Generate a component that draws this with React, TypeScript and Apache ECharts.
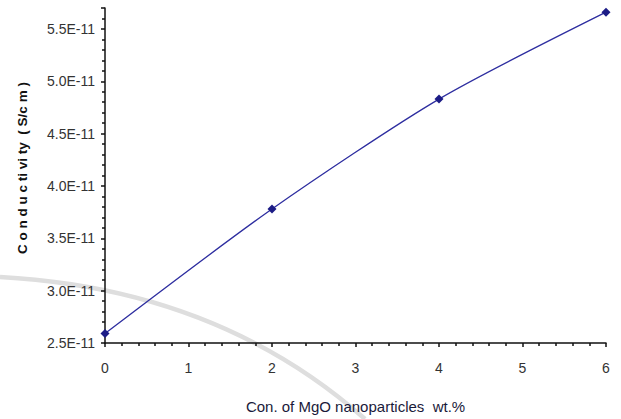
import React, { useEffect, useRef } from "react";
import * as echarts from "echarts";

// Data (conductivity in units of 1E-11 S/cm)
const mgoWt: number[] = [0, 2, 4, 6];
const conductivityE11: number[] = [2.59, 3.78, 4.83, 5.66];

const xTitle = "Con. of MgO nanoparticles  wt.%";
const yTitle = "C o n d u c ti vi ty  ( S/c m )";

const FONT = "'Liberation Sans', Arial, sans-serif";

export default function App() {
  const ref = useRef<HTMLDivElement>(null);

  useEffect(() => {
    document.body.style.margin = "0";
    if (!ref.current) return;
    const chart = echarts.init(ref.current, null, { renderer: "svg" });
    const seriesData = mgoWt.map((x, i) => [x, conductivityE11[i]]);
    chart.setOption({
      animation: false,
      backgroundColor: "#ffffff",
      grid: { left: 105, right: 15, top: 8, bottom: 76, containLabel: false },
      graphic: [
        {
          type: "bezierCurve",
          z: -10,
          shape: { x1: 0, y1: 277, cpx1: 150, cpy1: 285, cpx2: 270, cpy2: 335, x2: 365, y2: 419 },
          style: { stroke: "#dedede", lineWidth: 4.5, fill: "none" },
        },
        {
          type: "text",
          x: 22,
          y: 168,
          rotation: Math.PI / 2,
          style: {
            text: yTitle,
            fontSize: 13.5,
            fontWeight: "bold",
            fontFamily: FONT,
            fill: "#111",
            align: "center",
            verticalAlign: "middle",
          },
        },
      ],
      xAxis: {
        type: "value",
        min: 0,
        max: 6,
        interval: 1,
        name: xTitle,
        nameLocation: "middle",
        nameGap: 56,
        nameTextStyle: { fontFamily: FONT, fontSize: 15, color: "#1a1a3a" },
        axisLine: { show: true, lineStyle: { color: "#111", width: 1.5 } },
        axisTick: { show: true, length: 4, inside: false, lineStyle: { color: "#111", width: 1.5 } },
        minorTick: { show: true, splitNumber: 5, length: 3, lineStyle: { color: "#111", width: 1.5 } },
        splitLine: { show: false },
        axisLabel: { fontFamily: FONT, fontSize: 14, color: "#333", margin: 18 },
      },
      yAxis: {
        type: "value",
        min: 2.5,
        max: 5.7,
        interval: 0.5,
        axisLine: { show: true, lineStyle: { color: "#111", width: 1.5 } },
        axisTick: { show: true, length: 4, inside: false, lineStyle: { color: "#111", width: 1.5 } },
        minorTick: { show: true, splitNumber: 5, length: 3, lineStyle: { color: "#111", width: 1.5 } },
        splitLine: { show: false },
        axisLabel: {
          fontFamily: FONT,
          fontSize: 14,
          color: "#333",
          margin: 10,
          formatter: (v: number) => {
            const r = Math.round(v * 10);
            if (r % 5 !== 0) return "";
            return (r / 10).toFixed(1) + "E-11";
          },
        },
      },
      series: [
        {
          type: "line",
          data: seriesData,
          smooth: 0.25,
          symbol: "diamond",
          symbolSize: 9,
          itemStyle: { color: "#1c1c86" },
          lineStyle: { color: "#2e2ea0", width: 1.3 },
        },
      ],
    });
    return () => chart.dispose();
  }, []);

  return <div ref={ref} style={{ width: 621, height: 419 }} />;
}
